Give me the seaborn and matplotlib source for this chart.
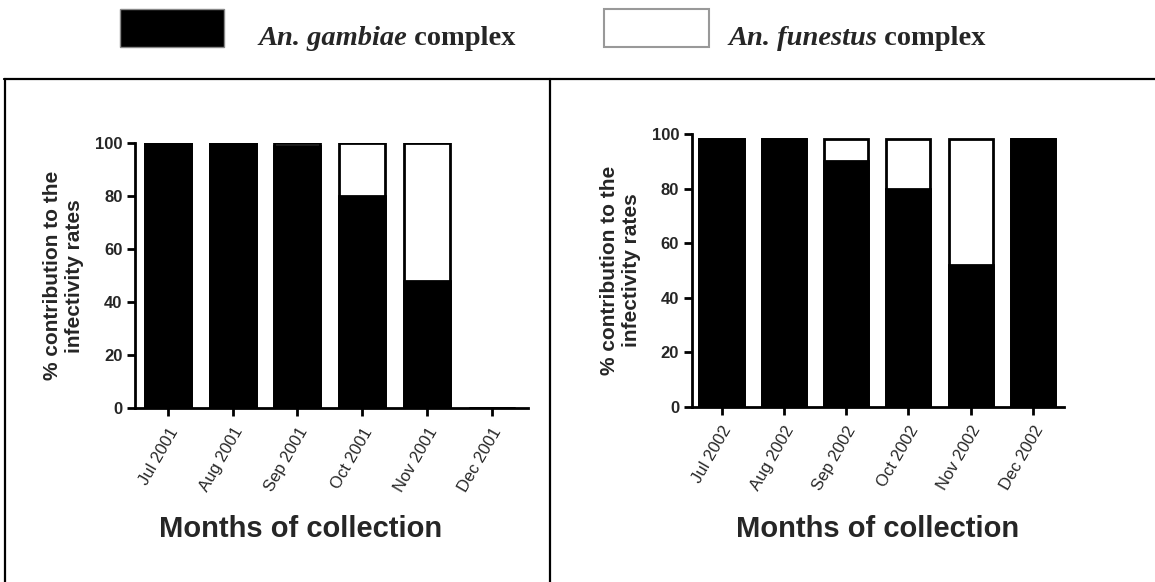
import matplotlib
matplotlib.use("Agg")
import matplotlib.pyplot as plt
from matplotlib.lines import Line2D
from matplotlib.patches import Rectangle
import seaborn as sns
import pandas as pd

# ---- data ----
months_2001 = ["Jul 2001", "Aug 2001", "Sep 2001", "Oct 2001", "Nov 2001", "Dec 2001"]
gambiae_2001 = [100, 100, 99, 80, 48, 0]
funestus_2001 = [0, 0, 1, 20, 52, 0]

months_2002 = ["Jul 2002", "Aug 2002", "Sep 2002", "Oct 2002", "Nov 2002", "Dec 2002"]
gambiae_2002 = [98, 98, 90, 80, 52, 98]
funestus_2002 = [0, 0, 8, 18, 46, 0]

legend_labels = ["An. gambiae", "An. funestus"]
y_ticks = [0, 20, 40, 60, 80, 100]
y_label = "% contribution to the\ninfectivity rates"
x_label = "Months of collection"

sns.set_style("ticks")
plt.rcParams["font.family"] = ["Liberation Sans", "DejaVu Sans"]

W, H = 1155, 582
fig = plt.figure(figsize=(W / 100, H / 100), dpi=100)


def box(x0, y0, x1, y1):
    return [x0 / W, 1 - y1 / H, (x1 - x0) / W, (y1 - y0) / H]


ax1 = fig.add_axes(box(135, 143.3, 528.3, 408.3))
ax2 = fig.add_axes(box(691.7, 134, 1064, 406.7))


def draw(ax, months, gam, fun, xlim):
    df = pd.DataFrame({"month": months, "gambiae": gam,
                       "total": [g + f for g, f in zip(gam, fun)]})
    sns.barplot(data=df, x="month", y="total", color="white", saturation=1,
                edgecolor="black", linewidth=2, width=0.71, ax=ax)
    sns.barplot(data=df, x="month", y="gambiae", color="black", saturation=1,
                edgecolor="black", linewidth=2, width=0.71, ax=ax)
    ax.set_xlim(*xlim)
    ax.set_ylim(0, 100)
    ax.set_yticks(y_ticks)
    ax.set_yticklabels([str(v) for v in y_ticks], fontsize=12, fontweight="bold")
    ax.set_xticks(range(len(months)))
    ax.set_xticklabels(months, fontsize=12, rotation=60, ha="right",
                       rotation_mode="anchor")
    ax.tick_params(axis="both", width=2, length=6, color="black")
    ax.tick_params(axis="y", pad=3)
    ax.tick_params(axis="x", pad=6)
    for s in ["top", "right"]:
        ax.spines[s].set_visible(False)
    for s in ["left", "bottom"]:
        ax.spines[s].set_linewidth(2)
        ax.spines[s].set_color("black")
    ax.set_xlabel("")
    ax.set_ylabel(y_label, fontsize=15, fontweight="bold", labelpad=8)


draw(ax1, months_2001, gambiae_2001, funestus_2001, (-0.505, 5.565))
draw(ax2, months_2002, gambiae_2002, funestus_2002, (-0.48, 5.5))

fig.text(301 / W, 1 - 537 / H, x_label, fontsize=21, fontweight="bold",
         ha="center", va="baseline")
fig.text(878 / W, 1 - 537 / H, x_label, fontsize=21, fontweight="bold",
         ha="center", va="baseline")

# ---- frame lines ----
fig.add_artist(Line2D([4 / W, 1], [1 - 79.3 / H, 1 - 79.3 / H], color="black", lw=1.6))
fig.add_artist(Line2D([5 / W, 5 / W], [0, 1 - 79.3 / H], color="black", lw=1.6))
fig.add_artist(Line2D([550 / W, 550 / W], [0, 1 - 79.3 / H], color="black", lw=1.6))

# ---- legend ----
fig.add_artist(Rectangle((120 / W, 1 - 47.3 / H), 104 / W, 38 / H,
                         facecolor="black", edgecolor="#888888", lw=1,
                         transform=fig.transFigure))
fig.add_artist(Rectangle((604 / W, 1 - 47.3 / H), 105 / W, 38 / H,
                         facecolor="white", edgecolor="#999999", lw=1.5,
                         transform=fig.transFigure))

renderer = fig.canvas.get_renderer()
serif = ["Liberation Serif", "DejaVu Serif"]
for x0, lab in [(258, legend_labels[0]), (728, legend_labels[1])]:
    t = fig.text(x0 / W, 1 - 45 / H, lab, fontsize=20.5, fontweight="bold",
                 fontstyle="italic", family=serif, ha="left", va="baseline")
    bb = t.get_window_extent(renderer)
    fig.text(bb.x1 / W, 1 - 45 / H, " complex", fontsize=20.5, fontweight="bold",
             family=serif, ha="left", va="baseline")

fig.savefig("out.png", dpi=100)
